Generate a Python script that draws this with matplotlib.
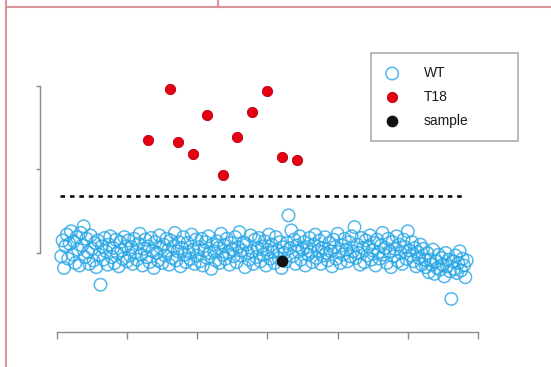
import numpy as np
import matplotlib
matplotlib.use('Agg')
import matplotlib.pyplot as plt
from matplotlib.lines import Line2D

plt.rcParams['font.family'] = ['Liberation Sans', 'DejaVu Sans']
plt.rcParams['lines.scale_dashes'] = False

# WT samples (index along x, ratio on y)
wt_y = [
    0.96, 1.15, 0.82, 1.08, 1.22, 0.93, 1.11, 1.26, 0.98, 1.14,
    0.88, 1.19, 1.04, 0.85, 1.24, 1.09, 1.32, 0.95, 1.17, 1.01,
    0.87, 1.21, 1.05, 0.91, 1.12, 0.83, 1.15, 0.98, 0.62, 1.08,
    0.92, 1.18, 1.02, 0.86, 1.10, 1.20, 0.95, 1.06, 0.88, 1.16,
    1.00, 0.84, 1.13, 1.03, 0.93, 1.19, 1.08, 0.90, 1.15, 0.97,
    1.07, 0.87, 1.17, 1.01, 0.92, 1.11, 1.23, 0.98, 0.85, 1.05,
    1.16, 0.95, 1.08, 0.89, 1.18, 1.02, 0.82, 1.13, 1.00, 0.91,
    1.21, 1.06, 0.88, 1.10, 0.97, 1.17, 1.03, 0.86, 1.15, 0.94,
    1.08, 1.24, 0.91, 1.02, 1.13, 0.84, 1.06, 1.19, 0.98, 0.89,
    1.12, 1.01, 0.93, 1.22, 1.04, 0.87, 1.16, 0.97, 1.07, 0.90,
    1.17, 0.85, 1.03, 1.13, 0.94, 1.20, 1.00, 0.81, 1.10, 1.02,
    0.91, 1.14, 1.06, 0.88, 1.23, 0.98, 1.09, 0.93, 1.17, 1.01,
    0.86, 1.12, 1.04, 0.96, 1.19, 0.89, 1.07, 1.25, 0.97, 1.03,
    1.13, 0.83, 1.10, 1.00, 0.92, 1.21, 1.02, 0.87, 1.16, 0.95,
    1.06, 1.18, 0.90, 1.08, 0.98, 1.14, 0.85, 1.04, 1.22, 0.93,
    1.10, 1.01, 0.88, 1.19, 1.03, 0.94, 1.13, 0.82, 1.07, 1.00,
    0.90, 1.12, 1.45, 1.06, 1.27, 0.96, 1.16, 0.87, 1.09, 1.02,
    1.20, 0.92, 1.04, 1.13, 0.85, 1.07, 0.98, 1.18, 1.01, 0.89,
    1.10, 1.22, 0.94, 1.03, 1.15, 0.87, 1.06, 0.97, 1.19, 1.00,
    0.91, 1.12, 1.02, 0.84, 1.16, 1.07, 0.93, 1.23, 1.01, 0.88,
    1.09, 0.98, 1.17, 1.04, 0.90, 1.13, 0.96, 1.20, 1.02, 1.31,
    0.94, 1.10, 1.00, 0.86, 1.18, 1.06, 0.89, 1.15, 0.97, 1.08,
    1.21, 0.92, 1.03, 1.12, 0.85, 1.16, 1.01, 0.93, 1.09, 1.24,
    0.98, 1.06, 0.88, 1.17, 1.02, 0.83, 1.13, 0.96, 1.05, 1.20,
    0.90, 1.10, 1.00, 0.87, 1.16, 1.07, 0.93, 1.26, 1.03, 0.97,
    1.13, 0.90, 1.06, 0.84, 1.01, 0.94, 1.10, 0.86, 1.05, 0.92,
    0.83, 1.00, 0.77, 0.92, 0.86, 1.04, 0.75, 0.90, 0.82, 0.98,
    0.80, 0.94, 0.86, 0.72, 1.00, 0.84, 0.92, 0.78, 0.45, 0.90,
    0.81, 0.97, 0.76, 0.88, 1.02, 0.79, 0.93, 0.85, 0.71, 0.91,
]
wt_x = np.arange(3, 3 + len(wt_y))

# T18 samples
t18_x = [65, 80.5, 86.4, 96.7, 107.1, 118.5, 128.1, 139.2, 149.4, 160.1, 170.8]
t18_y = [2.35, 2.96, 2.33, 2.18, 2.65, 1.93, 2.39, 2.69, 2.94, 2.15, 2.11]

# tested sample
sample_x = [160.1]
sample_y = [0.90]

cutoff = 1.68
x_ticks = [0, 50, 100, 150, 200, 250, 300]
y_ticks = [1, 2, 3]

fig = plt.figure(figsize=(5.51, 3.67), dpi=100)
ax = fig.add_axes([40 / 551, 35 / 367, 460 / 551, 292 / 367])

ax.scatter(wt_x, wt_y, s=80, facecolors='none', edgecolors='#27a6e6',
           linewidths=1.1, alpha=0.8, label='WT', zorder=2)
ax.scatter(t18_x, t18_y, s=55, color='#e60012', edgecolors='#b00010',
           linewidths=0.6, label='T18', zorder=3)
ax.scatter(sample_x, sample_y, s=55, color='#111111', label='sample', zorder=4)

ax.plot([2, 291], [cutoff, cutoff], color='black', lw=1.8,
        linestyle=(0, (3.3, 3.5)), zorder=1)

# axis ranges chosen so the R-style detached axes fall in place
ax.set_xlim(-12.1, 315.7)
ax.set_ylim(0.054, 3.55)

for s in ['top', 'right']:
    ax.spines[s].set_visible(False)
for s in ['bottom', 'left']:
    ax.spines[s].set_color('#8a8a8a')
    ax.spines[s].set_linewidth(1.0)
ax.spines['bottom'].set_bounds(0, 300)
ax.spines['left'].set_bounds(1, 3)

ax.set_xticks(x_ticks)
ax.set_yticks(y_ticks)
ax.set_xticklabels([])
ax.set_yticklabels([])
ax.tick_params(axis='x', direction='out', length=5, width=1.0, color='#8a8a8a')
ax.tick_params(axis='y', direction='out', length=3, width=1.0, color='#8a8a8a')

leg = ax.legend(loc='upper left', bbox_to_anchor=(371 / 551, 1 - 142 / 367, 147 / 551, 89 / 367),
                bbox_transform=fig.transFigure, mode='expand', borderaxespad=0,
                fontsize=10, frameon=True, fancybox=False, borderpad=0.95,
                handlelength=1.15, handletextpad=1.7, labelspacing=0.7,
                scatterpoints=1)
leg.get_frame().set_edgecolor('#9a9a9a')
leg.get_frame().set_linewidth(1.2)
for t in leg.get_texts():
    t.set_color('#1a1a1a')

# page frame lines around the figure cell
pink = '#d8959a'
fig.add_artist(Line2D([5.5 / 551, 1], [1 - 7 / 367, 1 - 7 / 367], transform=fig.transFigure, color=pink, lw=1.5))
fig.add_artist(Line2D([5.5 / 551, 5.5 / 551], [0, 1], transform=fig.transFigure, color=pink, lw=1.5))
fig.add_artist(Line2D([218 / 551, 218 / 551], [1 - 7 / 367, 1], transform=fig.transFigure, color=pink, lw=1.5))

fig.savefig('out.png', dpi=100)
